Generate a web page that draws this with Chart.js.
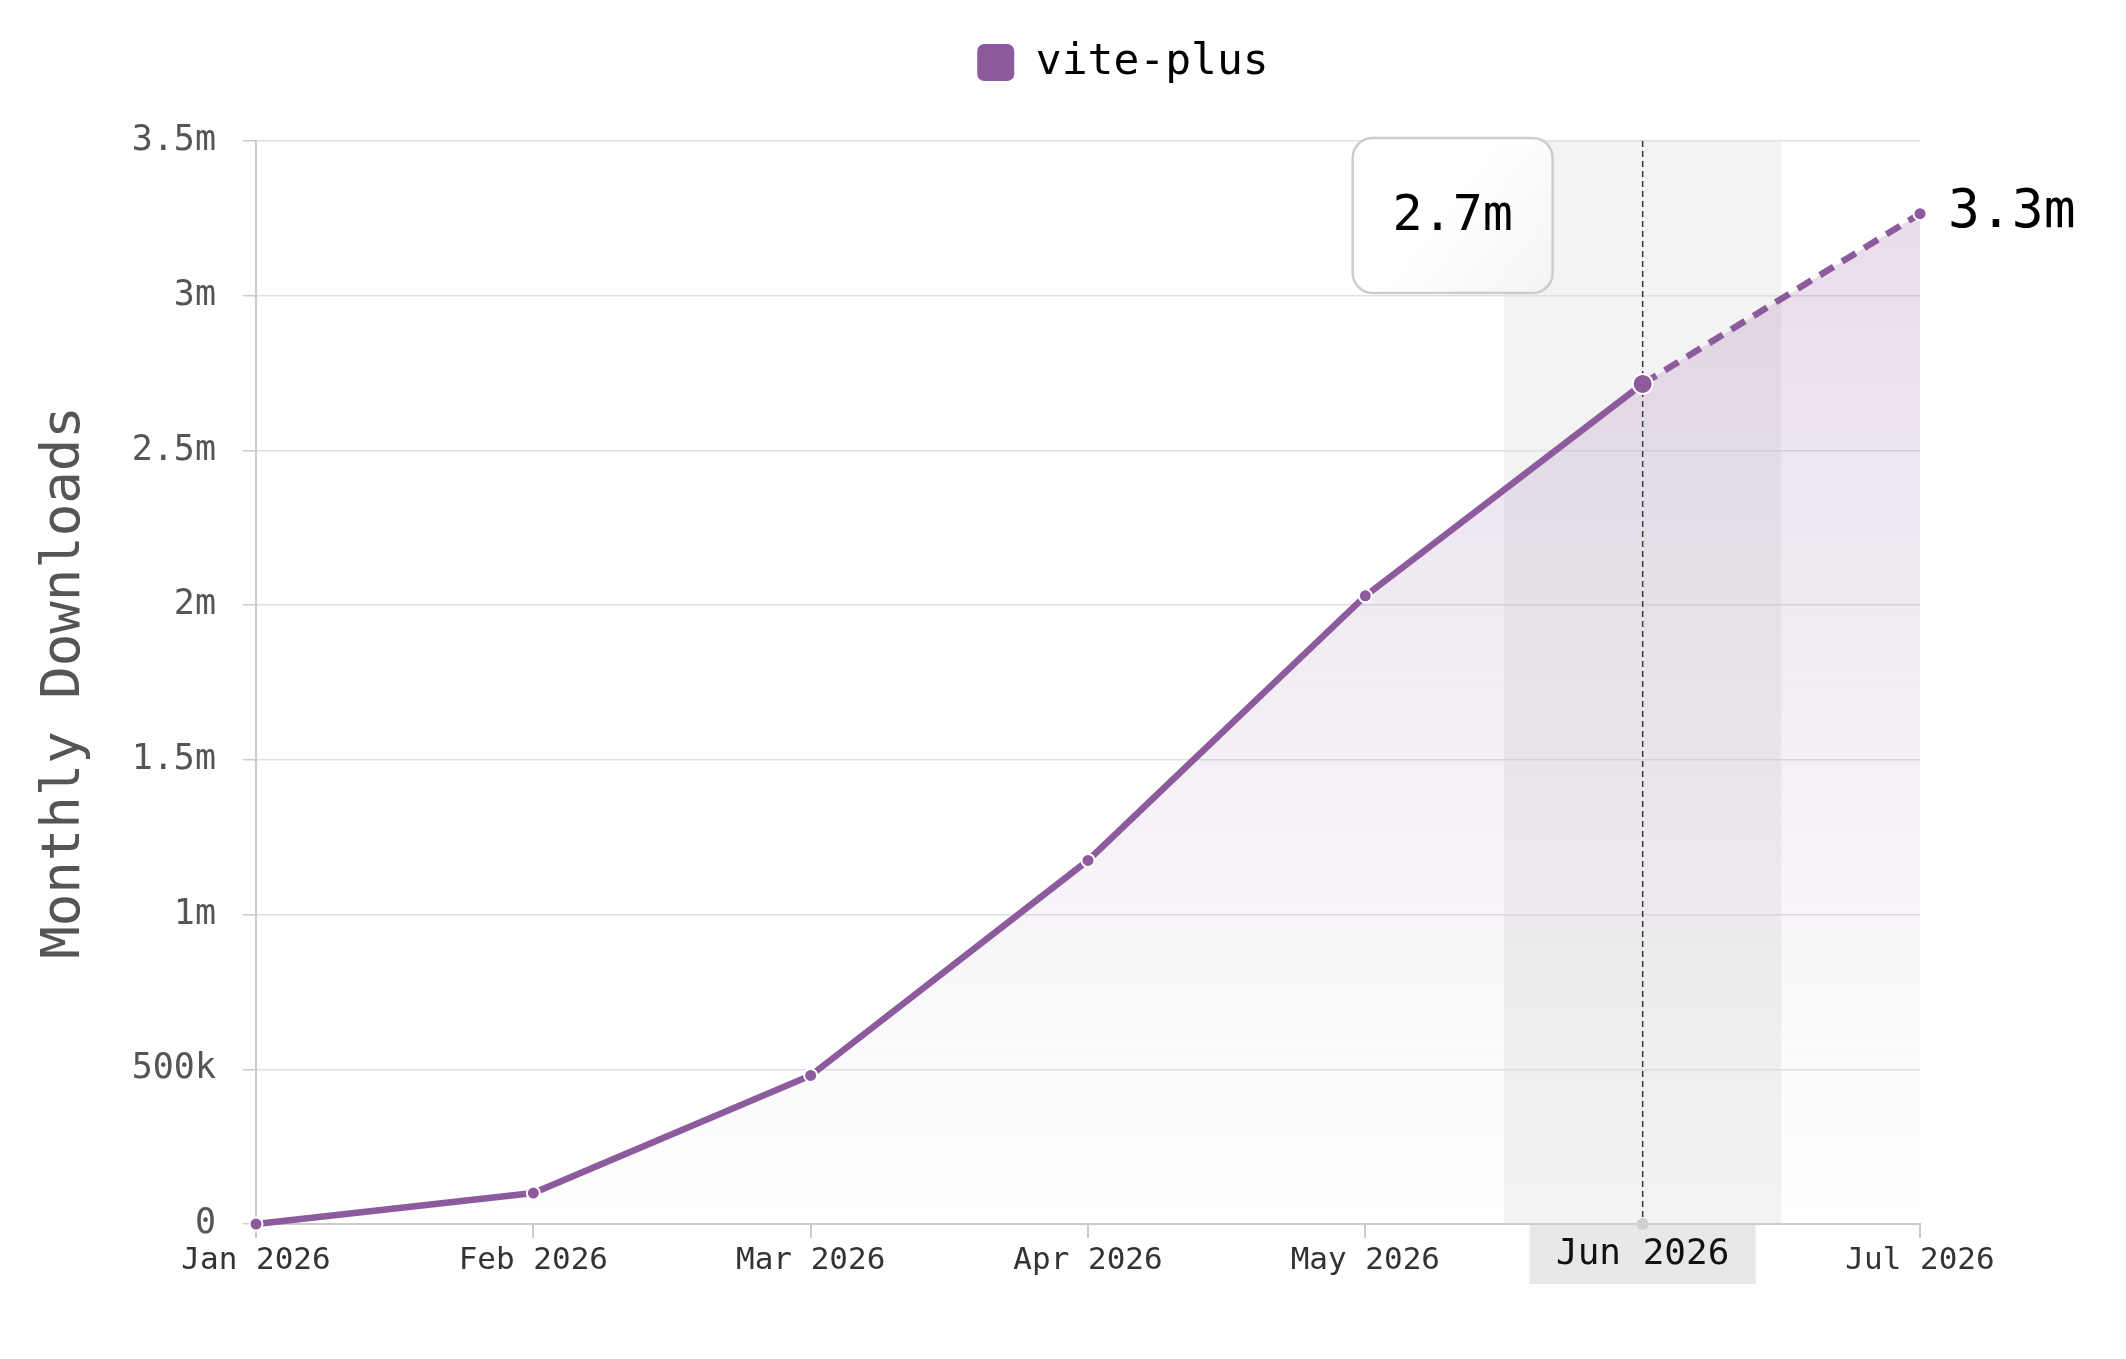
<!DOCTYPE html>
<html>
<head>
<meta charset="utf-8">
<title>vite-plus monthly downloads</title>
<script src="https://cdn.jsdelivr.net/npm/chart.js@4.4.1/dist/chart.umd.min.js"></script>
<style>
  html, body { margin: 0; padding: 0; background: #fff; }
  #wrap { width: 2126px; height: 1359px; }
</style>
</head>
<body>
<div id="wrap"><canvas id="downloadsChart" width="2126" height="1359"></canvas></div>
<script>
// Data
const months = ['Jan 2026', 'Feb 2026', 'Mar 2026', 'Apr 2026', 'May 2026', 'Jun 2026', 'Jul 2026'];
const downloads = [0, 100000, 480000, 1175000, 2030000, 2715000, 3265000];
const yTickValues = [0, 500000, 1000000, 1500000, 2000000, 2500000, 3000000, 3500000];
const seriesName = 'vite-plus';
const highlightIndex = 5;   // current month
const projectedIndex = 6;   // last point is a projection (dashed)

const FONT = '"DejaVu Sans Mono", "Liberation Mono", monospace';
const PURPLE = '#8e5a9e';

function fmt(v) {
  if (v >= 1e6) return (Math.round(v / 1e5) / 10) + 'm';
  if (v >= 1e3) return (Math.round(v / 100) / 10) + 'k';
  return String(v);
}

// nudge the legend: sits higher and a bit right of the default spot
const legendShift = {
  id: 'legendShift',
  afterLayout(chart) {
    const lg = chart.legend;
    if (!lg) return;
    const dx = 163, dy = -47;
    lg.left += dx; lg.right += dx;
    lg.top += dy; lg.bottom += dy;
    if (lg.legendHitBoxes) lg.legendHitBoxes.forEach(b => { b.left += dx; b.top += dy; });
  }
};

// Highlight band, crosshair, value box and end label
const highlightPlugin = {
  id: 'highlight',
  beforeDraw(chart) {
    const { ctx, chartArea } = chart;
    const x = chart.scales.x;
    const cx = x.getPixelForValue(highlightIndex);
    const half = (x.getPixelForValue(1) - x.getPixelForValue(0)) / 2;
    ctx.save();
    ctx.fillStyle = '#f3f3f3';
    ctx.fillRect(cx - half, chartArea.top, half * 2, chartArea.bottom - chartArea.top);
    ctx.restore();
  },
  beforeDatasetsDraw(chart) {
    const { ctx, chartArea } = chart;
    const cx = chart.scales.x.getPixelForValue(highlightIndex);
    ctx.save();
    ctx.strokeStyle = '#333';
    ctx.lineWidth = 1.5;
    ctx.setLineDash([6, 4]);
    ctx.beginPath();
    ctx.moveTo(cx, chartArea.top);
    ctx.lineTo(cx, chartArea.bottom);
    ctx.stroke();
    ctx.restore();
  },
  afterDraw(chart) {
    const { ctx, chartArea } = chart;
    const meta = chart.getDatasetMeta(0);
    const hp = meta.data[highlightIndex];
    const lp = meta.data[projectedIndex];
    ctx.save();

    // current month label under the axis
    const lw = 226, lh = 59;
    ctx.fillStyle = '#e8e8e8';
    ctx.fillRect(hp.x - lw / 2, chartArea.bottom + 1, lw, lh);
    ctx.fillStyle = '#d0d0d0';
    ctx.beginPath();
    ctx.arc(hp.x, chartArea.bottom, 6, 0, Math.PI * 2);
    ctx.fill();
    ctx.fillStyle = '#111';
    ctx.font = '36px ' + FONT;
    ctx.textAlign = 'center';
    ctx.textBaseline = 'middle';
    ctx.fillText(months[highlightIndex], hp.x, chartArea.bottom + 31);

    // value box
    const bw = 200, bh = 155;
    const bx = hp.x - 90 - bw, by = chartArea.top - 3;
    const grad = ctx.createLinearGradient(bx, by, bx + bw, by + bh);
    grad.addColorStop(0, '#ffffff');
    grad.addColorStop(0.45, '#ffffff');
    grad.addColorStop(1, '#f4f4f4');
    ctx.beginPath();
    ctx.roundRect(bx, by, bw, bh, 20);
    ctx.fillStyle = grad;
    ctx.fill();
    ctx.strokeStyle = '#cccccc';
    ctx.lineWidth = 2.5;
    ctx.stroke();
    ctx.fillStyle = '#000';
    ctx.font = '50px ' + FONT;
    ctx.fillText(fmt(downloads[highlightIndex]), bx + bw / 2, by + bh / 2 + 2);

    // end label
    ctx.textAlign = 'left';
    ctx.font = '53px ' + FONT;
    ctx.fillText(fmt(downloads[projectedIndex]), lp.x + 28, lp.y);
    ctx.restore();
  }
};

const ctx = document.getElementById('downloadsChart');
new Chart(ctx, {
  type: 'line',
  data: {
    labels: months,
    datasets: [{
      label: seriesName,
      data: downloads,
      clip: false,
      borderColor: PURPLE,
      borderWidth: 6.5,
      fill: 'origin',
      backgroundColor: (c) => {
        const area = c.chart.chartArea;
        if (!area) return 'rgba(142,90,158,0.1)';
        const g = c.chart.ctx.createLinearGradient(0, area.top, 0, area.bottom);
        g.addColorStop(0, 'rgba(142,90,158,0.22)');
        g.addColorStop(1, 'rgba(142,90,158,0)');
        return g;
      },
      tension: 0,
      pointRadius: (c) => c.dataIndex === highlightIndex ? 10 : 6.5,
      pointBackgroundColor: PURPLE,
      pointBorderColor: '#ffffff',
      pointBorderWidth: 2,
      segment: {
        borderDash: (s) => s.p1DataIndex === projectedIndex ? [16, 10] : undefined
      }
    }]
  },
  options: {
    responsive: false,
    animation: false,
    layout: { padding: { top: 49, right: 206, bottom: 0, left: 0 } },
    plugins: {
      tooltip: { enabled: false },
      legend: {
        display: true,
        labels: {
          color: '#333',
          font: { family: FONT, size: 43 },
          boxWidth: 37,
          boxHeight: 37,
          useBorderRadius: true,
          borderRadius: 7,
          padding: 39,
          generateLabels: () => [{
            text: seriesName,
            fillStyle: PURPLE,
            strokeStyle: PURPLE,
            lineWidth: 0,
            borderRadius: 7,
            datasetIndex: 0
          }]
        }
      }
    },
    scales: {
      x: {
        type: 'category',
        offset: false,
        grid: { display: true, drawOnChartArea: false, drawTicks: true, tickLength: 14, color: '#cccccc', lineWidth: 2 },
        border: { display: true, color: '#cccccc', width: 2 },
        ticks: {
          color: (c) => c.index === highlightIndex ? 'rgba(0,0,0,0)' : '#333',
          font: { family: FONT, size: 31 },
          padding: 4,
          maxRotation: 0,
          autoSkip: false
        },
        afterFit: (scale) => { scale.height = 135; }
      },
      y: {
        min: 0,
        max: 3500000,
        afterBuildTicks: (scale) => { scale.ticks = yTickValues.map(v => ({ value: v })); },
        grid: { color: '#e0e0e0', lineWidth: 1.5, tickLength: 13, tickColor: '#cccccc' },
        border: { display: true, color: '#cccccc', width: 2 },
        ticks: {
          color: '#555',
          font: { family: FONT, size: 35 },
          padding: 27,
          callback: (v) => fmt(v)
        },
        title: {
          display: true,
          text: 'Monthly Downloads',
          color: '#555',
          font: { family: FONT, size: 54 },
          padding: { top: 33, bottom: 0 }
        },
        afterFit: (scale) => { scale.width = 256; }
      }
    }
  },
  plugins: [legendShift, highlightPlugin]
});
</script>
</body>
</html>
